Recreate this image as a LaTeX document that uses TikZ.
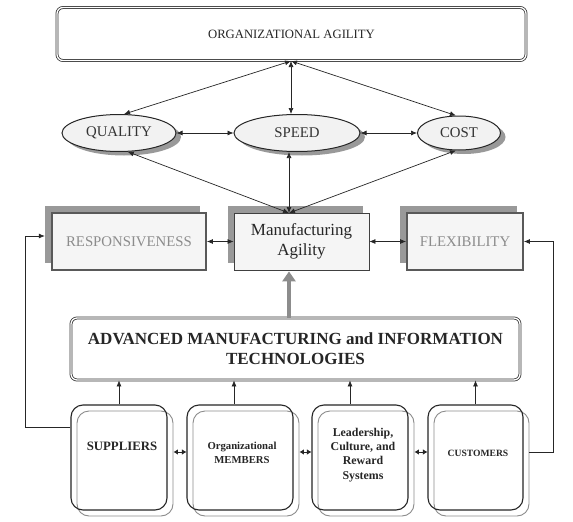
\documentclass[tikz,border=0pt]{standalone}
\usepackage{fontspec}
\setmainfont{Liberation Serif}
\usetikzlibrary{arrows.meta,shapes.geometric}
\begin{document}
\begin{tikzpicture}[x=1pt,y=-1pt,
  >={Latex[length=6pt,width=5pt]},
  arr/.style={<->, line width=0.7pt, draw=black!85},
  sarr/.style={{Latex[length=4.5pt,width=5.5pt]}-{Latex[length=4.5pt,width=5.5pt]}, line width=0.8pt, draw=black!85},
  one/.style={->, line width=0.7pt, draw=black!85},
  dbox/.style={rectangle, rounded corners=6pt, draw=black!80, line width=0.8pt, double=white, double distance=1.3pt, fill=white, inner sep=0pt},
  ell/.style={ellipse, draw=black!85, line width=1pt, fill=black!5, inner sep=0pt, text=black!80, font=\fontsize{14.8}{17}\selectfont},
  eshd/.style={ellipse, fill=black!40, draw=none, inner sep=0pt},
  mid/.style={rectangle, draw=black!65, line width=1.8pt, fill=black!4, text=black!45, inner sep=0pt, minimum height=57pt, font=\fontsize{14.8}{17}\selectfont},
  mshd/.style={rectangle, fill=black!40, draw=none, inner sep=0pt, minimum height=57pt},
  bbox/.style={rectangle, rounded corners=12pt, draw=black!85, line width=1.1pt, inner sep=0pt, minimum height=105pt, align=center, font=\bfseries},
  gbox/.style={rectangle, rounded corners=12pt, draw=black!45, line width=0.9pt, inner sep=0pt, minimum height=105pt}
]
\useasboundingbox[fill=white] (0,0) rectangle (573,522);

% top
\node[dbox, minimum width=469pt, minimum height=53pt, text=black!85, font=\fontsize{12.7}{14}\selectfont] (oa) at (291.5,34) {ORGANIZATIONAL AGILITY};

% ellipses
\node[eshd, minimum width=114pt, minimum height=37pt] (qsh) at (124,137) {};
\node[eshd, minimum width=126pt, minimum height=37pt] (ssh) at (302,137) {};
\node[eshd, minimum width=83pt, minimum height=34pt] (csh) at (464,137) {};
\node[ell, minimum width=114pt, minimum height=37pt] (q) at (119,133) {QUALITY};
\node[ell, minimum width=126pt, minimum height=37pt] (s) at (297,133) {SPEED};
\node[ell, minimum width=83pt, minimum height=34pt] (c) at (459,133) {COST};

% middle row
\node[mshd, minimum width=155pt] (rsh) at (122.5,234.5) {};
\node[mshd, minimum width=135pt] (mash) at (295.5,234.5) {};
\node[mshd, minimum width=117pt] (fsh) at (458.5,234.5) {};
\node[mid, minimum width=154pt] (resp) at (129,241.5) {RESPONSIVENESS};
\node[rectangle, draw=black!75, line width=0.8pt, fill=black!4, inner sep=0pt, minimum width=135pt, minimum height=57pt, align=center, text=black!85, font=\fontsize{17}{20}\selectfont] (ma) at (301.5,241.5) {Manufacturing\\Agility};
\node[mid, minimum width=116pt] (flex) at (465,241.5) {FLEXIBILITY};

% advanced box
\node[dbox, minimum width=449pt, minimum height=62pt, align=center, text=black!85, font=\fontsize{17}{20}\selectfont\bfseries] (adv) at (295.5,349) {ADVANCED MANUFACTURING and INFORMATION\\TECHNOLOGIES};

% bottom boxes
\node[gbox, minimum width=96pt] (sg) at (125,463.5) {};
\node[gbox, minimum width=106pt] (mg) at (246,463.5) {};
\node[gbox, minimum width=96pt] (lg) at (366,463.5) {};
\node[gbox, minimum width=95pt] (cg) at (481.5,463.5) {};
\node[bbox, minimum width=96pt] (sb) at (119,457.5) {};
\node[bbox, minimum width=106pt] (mb) at (240,457.5) {};
\node[bbox, minimum width=96pt] (lb) at (360,457.5) {};
\node[bbox, minimum width=95pt] (cb) at (475.5,457.5) {};
\node[font=\fontsize{12.8}{14}\selectfont\bfseries, text=black!85] (st) at (122,446) {SUPPLIERS};
\node[font=\fontsize{10.7}{14}\selectfont\bfseries, align=center, text=black!85] (mt) at (242,453) {Organizational\\MEMBERS};
\node[font=\fontsize{11.9}{14.3}\selectfont\bfseries, align=center, text=black!85] (lt) at (363,455) {Leadership,\\Culture, and\\Reward\\Systems};
\node[font=\fontsize{9.6}{11}\selectfont\bfseries, text=black!85] (ct) at (478,453) {CUSTOMERS};

% helper coordinates
\coordinate (oab) at (291,61);
\coordinate (mat) at (289,213);
\coordinate (hrow) at (0,452);
\coordinate (srow) at (0,427);
\coordinate (rrow) at (0,236);
\coordinate (fl) at (25,0);
\coordinate (fr) at (553,0);

% arrows top
\draw[arr] (oab) -- (q.75);
\draw[arr] (oab) -- (oab |- s.north);
\draw[arr] (oab) -- (c.100);
\draw[arr] (q) -- (s);
\draw[arr] (s) -- (c);
\draw[arr] (mat) -- (q.-65);
\draw[arr] (mat) -- (mat |- s.south);
\draw[arr] (mat) -- (c.-100);

% middle arrows
\draw[arr] (resp) -- (ma);
\draw[arr] (ma) -- (flex);
\draw[line width=4pt, black!45, -{Triangle[length=10pt,width=13pt]}] (adv.north -| mat) -- ([yshift=-1pt]ma.south -| mat);

% bottom arrows to adv
\draw[one] (sb.north) -- (sb.north |- adv.south);
\draw[one] ([xshift=-6pt]mb.north) -- ([xshift=-6pt]mb.north |- adv.south);
\draw[one] ([xshift=-10pt]lb.north) -- ([xshift=-10pt]lb.north |- adv.south);
\draw[one] (cb.north) -- (cb.north |- adv.south);

% bottom horizontal arrows
\draw[sarr] (sg.east |- hrow) -- (mb.west |- hrow);
\draw[sarr] (mg.east |- hrow) -- (lb.west |- hrow);
\draw[sarr] (lg.east |- hrow) -- (cb.west |- hrow);

% feedback lines
\draw[one] (sb.west |- srow) -- (fl |- srow) -- (fl |- rrow) -- (rsh.west |- rrow);
\draw[one] (cg.east |- hrow) -- (fr |- hrow) -- (fr |- flex) -- (flex.east);
\end{tikzpicture}
\end{document}
